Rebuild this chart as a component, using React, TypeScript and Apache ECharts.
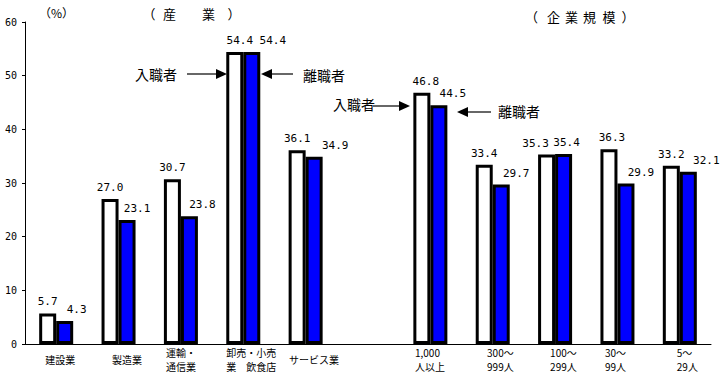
import React, { useEffect, useRef } from "react";
import * as echarts from "echarts";

const categories = [
  "建設業",
  "製造業",
  "運輸・\n通信業",
  "卸売・小売\n業　飲食店",
  "サービス業",
  "",
  "1,000\n人以上",
  "300〜\n999人",
  "100〜\n299人",
  "30〜\n99人",
  "5〜\n29人",
];
const hiringRate = [5.7, 27.0, 30.7, 54.4, 36.1, null, 46.8, 33.4, 35.3, 36.3, 33.2];
const separationRate = [4.3, 23.1, 23.8, 54.4, 34.9, null, 44.5, 29.7, 35.4, 29.9, 32.1];
const yTicks = { min: 0, max: 60, interval: 10 };

// styling nudges only
const hireLabelDx = [0, 0, 0, 5, 0, 0, 4, 0, -11, 3, 0];
const sepLabelDx = [12, 10, 13, 21, 21, 0, 14, 15, 3, 15, 18];
const catLabelDx = [-11, -6.5, -15, -17, -16.6, 0, -15.4, -5.7, -5, -12.5, -3];

const JP = '"Noto Sans CJK JP", sans-serif';
const MONO = '"DejaVu Sans Mono", "Liberation Mono", monospace';

function arrow(x1: number, x2: number, y: number) {
  const dir = x2 > x1 ? 1 : -1;
  const headLen = 11;
  const baseX = x2 - dir * headLen;
  return [
    {
      type: "line",
      shape: { x1, y1: y, x2: baseX, y2: y },
      style: { stroke: "#000", lineWidth: 1.2 },
    },
    {
      type: "polygon",
      shape: { points: [[baseX, y - 5], [x2, y], [baseX, y + 5]] },
      style: { fill: "#000" },
    },
  ];
}

function charText(ch: string, cx: number, cy: number, size = 13) {
  return {
    type: "text",
    x: cx,
    y: cy,
    style: { text: ch, font: `${size}px ${JP}`, fill: "#000", align: "center", verticalAlign: "middle" },
  };
}

export default function App() {
  const ref = useRef<HTMLDivElement>(null);
  useEffect(() => {
    if (!ref.current) return;
    const chart = echarts.init(ref.current, null, { renderer: "svg" });
    const mk = (vals: (number | null)[], dx: number[]) =>
      vals.map((v, i) => ({ value: v, label: { offset: [dx[i], 0] } }));
    const labelCommon = {
      show: true,
      position: "top",
      distance: 6,
      fontFamily: MONO,
      fontSize: 11,
      color: "#000",
      formatter: (p: any) => (p.value == null ? "" : Number(p.value).toFixed(1)),
    };
    chart.setOption({
      animation: false,
      backgroundColor: "#fff",
      grid: { left: 25, right: 13, top: 22, bottom: 32, containLabel: false },
      xAxis: {
        type: "category",
        data: categories,
        axisLine: { lineStyle: { color: "#000", width: 1 } },
        axisTick: { inside: true, length: 3, lineStyle: { color: "#000" } },
        axisLabel: { show: false },
      },
      yAxis: {
        type: "value",
        min: yTicks.min,
        max: yTicks.max,
        interval: yTicks.interval,
        splitLine: { show: false },
        axisLine: { show: true, lineStyle: { color: "#000", width: 1 } },
        axisTick: { show: true, length: 3, lineStyle: { color: "#000" } },
        axisLabel: { fontFamily: MONO, fontSize: 10, color: "#000", margin: 8 },
      },
      series: [
        {
          name: "入職者",
          type: "bar",
          data: mk(hiringRate, hireLabelDx),
          barWidth: 17,
          barGap: "0%",
          itemStyle: { color: "#fff", borderColor: "#000", borderWidth: 3 },
          label: labelCommon,
        },
        {
          name: "離職者",
          type: "bar",
          data: mk(separationRate, sepLabelDx),
          barWidth: 17,
          barGap: "0%",
          itemStyle: { color: "#0000ff", borderColor: "#000", borderWidth: 3 },
          label: labelCommon,
        },
      ],
    });

    const catTexts: any[] = [];
    categories.forEach((c, i) => {
      if (!c) return;
      const px = chart.convertToPixel({ xAxisIndex: 0 }, i) as number;
      const lines = c.split("\n");
      const y0 = lines.length === 1 ? 359 : 352;
      lines.forEach((ln, j) => {
        catTexts.push({
          type: "text",
          x: px + catLabelDx[i],
          y: y0 + j * 14,
          style: {
            text: ln,
            font: `10px ${JP}`,
            fill: "#000",
            align: "left",
            verticalAlign: "middle",
          },
        });
      });
    });

    chart.setOption({
      graphic: [
        {
          type: "text",
          x: 39,
          y: 12,
          style: { text: "（%）", font: `12px ${JP}`, fill: "#000", verticalAlign: "middle" },
        },
        charText("（", 149, 13),
        charText("産", 169.5, 13),
        charText("業", 208.5, 13),
        charText("）", 234, 13),
        charText("（", 531.5, 16),
        charText("企", 553.5, 16),
        charText("業", 571.5, 16),
        charText("規", 589.5, 16),
        charText("模", 609, 16),
        charText("）", 628, 16),
        {
          type: "text",
          x: 135,
          y: 74,
          style: { text: "入職者", font: `14px ${JP}`, fill: "#000", verticalAlign: "middle" },
        },
        ...arrow(187, 227, 74),
        {
          type: "text",
          x: 303,
          y: 75,
          style: { text: "離職者", font: `14px ${JP}`, fill: "#000", verticalAlign: "middle" },
        },
        ...arrow(293, 261, 74),
        {
          type: "text",
          x: 333,
          y: 104,
          style: { text: "入職者", font: `14px ${JP}`, fill: "#000", verticalAlign: "middle" },
        },
        ...arrow(373, 410, 106),
        {
          type: "text",
          x: 498,
          y: 111,
          style: { text: "離職者", font: `14px ${JP}`, fill: "#000", verticalAlign: "middle" },
        },
        ...arrow(491, 457, 112),
        ...catTexts,
      ],
    });
    return () => chart.dispose();
  }, []);
  return (
    <div
      ref={ref}
      style={{ position: "absolute", left: 0, top: 0, width: 724, height: 376, background: "#fff" }}
    />
  );
}
